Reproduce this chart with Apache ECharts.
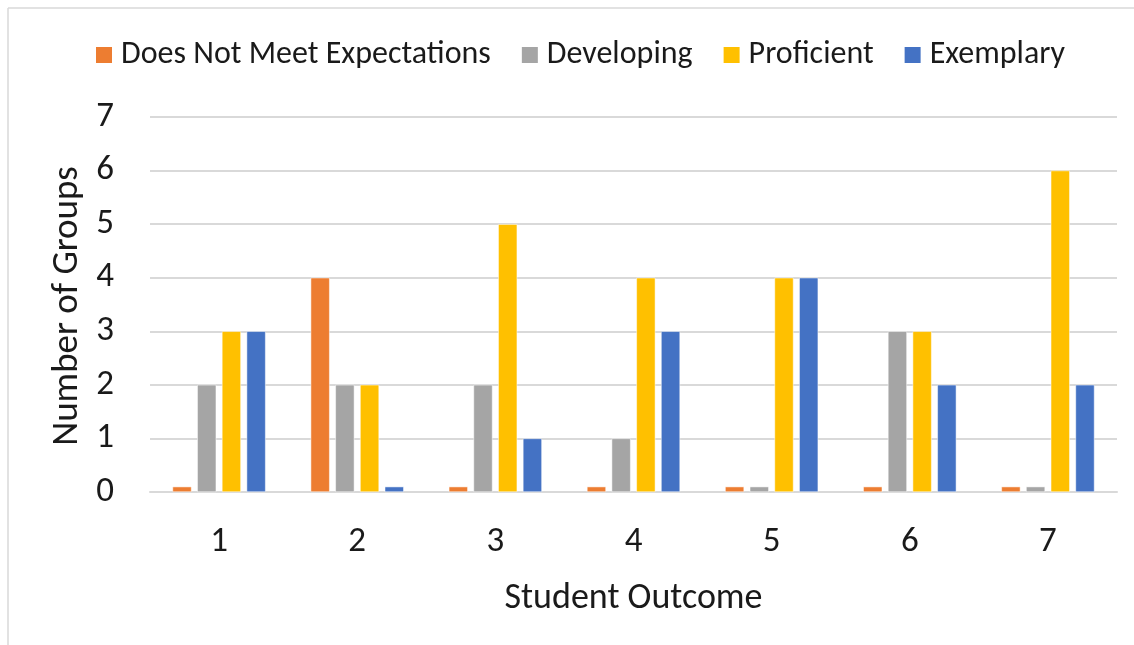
<!DOCTYPE html>
<html>
<head>
<meta charset="utf-8">
<script src="https://cdn.jsdelivr.net/npm/echarts@6/dist/echarts.min.js"></script>
<style>
  html, body { margin: 0; padding: 0; background: #fff; }
  #main { width: 1134px; height: 645px; }
</style>
</head>
<body>
<div id="main"></div>
<script>
let dom = document.getElementById("main");
let myChart = echarts.init(dom, null, { renderer: "canvas" });

// data (zero counts drawn as a tiny 0.1 bar like the original)
const outcomes = ["1", "2", "3", "4", "5", "6", "7"];
const seriesNames = ["Does Not Meet Expectations", "Developing", "Proficient", "Exemplary"];
const doesNotMeet = [0.1, 4, 0.1, 0.1, 0.1, 0.1, 0.1];
const developing = [2, 2, 2, 1, 0.1, 3, 0.1];
const proficient = [3, 2, 5, 4, 4, 3, 6];
const exemplary = [3, 0.1, 1, 3, 4, 2, 2];
const colors = ["#ED7D31", "#A5A5A5", "#FFC000", "#4472C4"];

const font = 'Carlito, "Liberation Sans Narrow", "Noto Sans", sans-serif';
const values = [doesNotMeet, developing, proficient, exemplary];

let option = {
    color: colors,
    textStyle: { fontFamily: font, color: "#1a1a1a" },
    legend: {
        top: 34,
        left: 89,
        itemWidth: 18,
        itemHeight: 18,
        itemGap: 29,
        icon: "rect",
        textStyle: { fontFamily: font, fontSize: 32, color: "#1a1a1a", padding: [0, 0, 0, 3] },
        data: seriesNames,
    },
    grid: { left: 150, right: 17, top: 117, bottom: 153 },
    xAxis: {
        type: "category",
        data: outcomes,
        name: "Student Outcome",
        nameLocation: "middle",
        nameGap: 89,
        nameTextStyle: { fontFamily: font, fontSize: 36, color: "#1a1a1a" },
        axisLine: { lineStyle: { color: "#d9d9d9", width: 2 } },
        axisTick: { show: false },
        axisLabel: { fontFamily: font, fontSize: 35, color: "#1a1a1a", margin: 33 },
    },
    yAxis: {
        type: "value",
        min: 0,
        max: 7,
        interval: 1,
        axisLabel: { fontFamily: font, fontSize: 35, color: "#1a1a1a", margin: 36 },
        splitLine: { lineStyle: { color: "#d9d9d9", width: 2 } },
    },
    graphic: [
        { type: "line", shape: { x1: 8, y1: 8, x2: 1134, y2: 8 }, style: { stroke: "#d9d9d9", lineWidth: 1.5 } },
        { type: "line", shape: { x1: 8, y1: 8, x2: 8, y2: 645 }, style: { stroke: "#d9d9d9", lineWidth: 1.5 } },
        {
            // y axis title
            type: "text",
            x: 68,
            y: 306,
            rotation: Math.PI / 2,
            style: {
                text: "Number of Groups",
                fontFamily: font,
                fontSize: 37,
                fill: "#1a1a1a",
                align: "center",
                verticalAlign: "middle",
            },
        },
    ],
    series: seriesNames.map((name, i) => ({
        name: name,
        type: "bar",
        data: values[i],
        barWidth: 19,
        barGap: "30%",
        itemStyle: { borderColor: "#fff", borderWidth: 0.5 },
    })),
};

myChart.setOption(option);
window.addEventListener("resize", myChart.resize);
</script>
</body>
</html>
